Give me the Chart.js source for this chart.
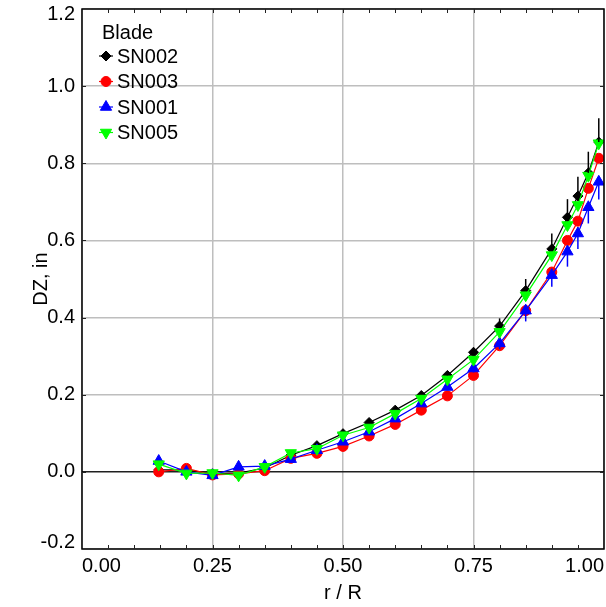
<!DOCTYPE html>
<html>
<head>
<meta charset="utf-8">
<script src="https://cdn.jsdelivr.net/npm/chart.js@4.4.0/dist/chart.umd.min.js"></script>
<style>
  html, body { margin: 0; padding: 0; background: #fff; }
  #wrap { width: 606px; height: 607px; }
</style>
</head>
<body>
<div id="wrap"><canvas id="chart" width="606" height="607"></canvas></div>
<script>
// Radial station r / R
const radius = [0.147, 0.20, 0.25, 0.30, 0.35, 0.40, 0.45, 0.50, 0.55, 0.60,
                0.65, 0.70, 0.75, 0.80, 0.85, 0.90, 0.93, 0.95, 0.97, 0.99];

// DZ, in for each blade
const sn002 = [0.005, 0.005, -0.005, -0.003, 0.010, 0.043, 0.068, 0.099, 0.128, 0.160,
               0.198, 0.250, 0.310, 0.378, 0.470, 0.578, 0.660, 0.715, 0.775, 0.855];
const sn003 = [0.000, 0.009, -0.008, -0.005, 0.003, 0.035, 0.048, 0.066, 0.093, 0.123,
               0.160, 0.197, 0.250, 0.327, 0.418, 0.518, 0.600, 0.650, 0.735, 0.813];
const sn001 = [0.028, 0.000, -0.009, 0.013, 0.015, 0.033, 0.056, 0.078, 0.104, 0.138,
               0.177, 0.220, 0.268, 0.333, 0.418, 0.510, 0.571, 0.618, 0.686, 0.752];
const sn005 = [0.020, -0.004, -0.003, -0.009, 0.013, 0.049, 0.060, 0.095, 0.115, 0.151,
               0.190, 0.240, 0.291, 0.363, 0.458, 0.562, 0.640, 0.692, 0.768, 0.852];

// Measurement spread (SN002 drawn upward, SN001 drawn downward)
const sn002Spread = [0, 0, 0, 0, 0, 0, 0, 0, 0, 0,
                     0, 0.008, 0.012, 0.020, 0.030, 0.040, 0.047, 0.050, 0.055, 0.062];
const sn001Spread = [0, 0, 0, 0, 0, 0, 0, 0, 0, 0,
                     0, 0.006, 0.010, 0.015, 0.028, 0.030, 0.039, 0.040, 0.042, 0.046];

const legendTitle = 'Blade';
const xTitle = 'r / R';
const yTitle = 'DZ, in';

const FONT = '"Liberation Sans", Arial, Helvetica, sans-serif';

function pts(ys) { return radius.map((x, i) => ({ x: x, y: ys[i] })); }

function series(label, ys, color, style, r, rot, order) {
  return {
    label: label,
    data: pts(ys),
    borderColor: color,
    backgroundColor: color,
    borderWidth: 1.2,
    pointStyle: style,
    pointRadius: r,
    pointRotation: rot,
    pointBorderWidth: 1,
    pointBorderColor: color,
    pointBackgroundColor: color,
    showLine: true,
    tension: 0,
    order: order
  };
}

// End labels of the value axis sit inside the plot height
const innerYLabels = {
  id: 'innerYLabels',
  beforeDraw(chart) {
    const items = chart.scales.y.getLabelItems();
    if (!items.length) return;
    items[0].options.translation[1] -= 7;
    items[items.length - 1].options.translation[1] += 5;
  }
};

// Error bars
const spreadBars = {
  id: 'spreadBars',
  afterDatasetsDraw(chart) {
    const { ctx, scales: { x, y } } = chart;
    ctx.save();
    ctx.lineWidth = 1.5;
    const bar = (vals, spread, dir, color) => {
      ctx.strokeStyle = color;
      vals.forEach((v, i) => {
        if (!spread[i]) return;
        const px = x.getPixelForValue(radius[i]);
        ctx.beginPath();
        ctx.moveTo(px, y.getPixelForValue(v));
        ctx.lineTo(px, y.getPixelForValue(v + dir * spread[i]));
        ctx.stroke();
      });
    };
    bar(sn002, sn002Spread, 1, '#000000');
    bar(sn001, sn001Spread, -1, '#0000ff');
    ctx.restore();
  }
};

// Plot frame with inward ticks
const frame = {
  id: 'frame',
  afterDraw(chart) {
    const { ctx, chartArea: a, scales: { x, y } } = chart;
    ctx.save();
    ctx.strokeStyle = '#000';
    ctx.lineWidth = 1.5;
    ctx.strokeRect(a.left, a.top, a.right - a.left, a.bottom - a.top);
    ctx.lineWidth = 1;
    ctx.strokeStyle = '#222';
    ctx.beginPath();
    for (let i = 1; i < 20; i++) {
      const px = Math.round(x.getPixelForValue(i * 0.05)) + 0.5;
      ctx.moveTo(px, a.bottom); ctx.lineTo(px, a.bottom - 4);
      ctx.moveTo(px, a.top); ctx.lineTo(px, a.top + 4);
    }
    for (let i = 1; i < 7; i++) {
      const py = Math.round(y.getPixelForValue(-0.2 + i * 0.2)) + 0.5;
      ctx.moveTo(a.left, py); ctx.lineTo(a.left + 4, py);
      ctx.moveTo(a.right, py); ctx.lineTo(a.right - 4, py);
    }
    ctx.stroke();
    ctx.restore();
  }
};

// Legend box
const bladeLegend = {
  id: 'bladeLegend',
  afterDraw(chart) {
    const { ctx, chartArea: a } = chart;
    ctx.save();
    ctx.font = '20px ' + FONT;
    ctx.fillStyle = '#000';
    ctx.textAlign = 'left';
    ctx.textBaseline = 'middle';
    ctx.fillText(legendTitle, a.left + 20, a.top + 24);
    chart.data.datasets.forEach((ds, i) => {
      const yy = a.top + 47 + i * 25.5;
      const mx = a.left + 24;
      ctx.strokeStyle = ds.borderColor;
      ctx.lineWidth = 1.2;
      ctx.beginPath();
      ctx.moveTo(mx - 7, yy); ctx.lineTo(mx + 7, yy);
      ctx.stroke();
      ctx.fillStyle = ds.backgroundColor;
      ctx.lineWidth = 1;
      Chart.helpers.drawPoint(ctx, {
        pointStyle: ds.pointStyle,
        rotation: ds.pointRotation,
        radius: ds.pointRadius,
        borderWidth: 1
      }, mx, yy);
      ctx.fillStyle = '#000';
      ctx.fillText(ds.label, a.left + 35, yy + 1);
    });
    ctx.restore();
  }
};

const fmt = (v, d) => (Math.abs(v) < 1e-9 ? 0 : Number(v)).toFixed(d);

new Chart(document.getElementById('chart'), {
  type: 'scatter',
  data: {
    datasets: [
      series('SN002', sn002, '#000000', 'rectRot', 5, 0, 4),
      series('SN003', sn003, '#ff0000', 'circle', 5, 0, 3),
      series('SN001', sn001, '#0000ff', 'triangle', 6.5, 0, 2),
      series('SN005', sn005, '#00ff00', 'triangle', 6.5, 180, 1)
    ]
  },
  options: {
    responsive: false,
    animation: false,
    layout: { autoPadding: false, padding: { top: 9, right: 2, left: 0, bottom: 0 } },
    plugins: {
      legend: { display: false },
      tooltip: { enabled: false }
    },
    scales: {
      x: {
        type: 'linear',
        min: 0,
        max: 1,
        afterFit(s) { s.height = 58; s.paddingLeft = 0; s.paddingRight = 0; },
        grid: {
          drawTicks: false,
          color: '#bebebe',
          lineWidth: 1.5
        },
        border: { display: false },
        ticks: {
          stepSize: 0.25,
          align: 'inner',
          padding: 5,
          maxRotation: 0,
          autoSkip: false,
          color: '#000',
          font: { family: FONT, size: 20 },
          callback: v => fmt(v, 2)
        },
        title: {
          display: true,
          text: xTitle,
          color: '#000',
          font: { family: FONT, size: 20 },
          padding: { top: 0, bottom: 2 }
        }
      },
      y: {
        type: 'linear',
        min: -0.2,
        max: 1.2,
        afterFit(s) { s.width = 82; s.paddingTop = 0; s.paddingBottom = 0; },
        grid: {
          drawTicks: false,
          color: c => Math.abs(c.tick.value) < 1e-9 ? '#202020' : '#bebebe',
          lineWidth: 1.5
        },
        border: { display: false },
        ticks: {
          stepSize: 0.2,
          padding: 7,
          color: '#000',
          font: { family: FONT, size: 20 },
          callback: v => fmt(v, 1)
        },
        title: {
          display: true,
          text: yTitle,
          color: '#000',
          font: { family: FONT, size: 20 },
          padding: { top: 29, bottom: 0 }
        }
      }
    }
  },
  plugins: [innerYLabels, spreadBars, frame, bladeLegend]
});
</script>
</body>
</html>
